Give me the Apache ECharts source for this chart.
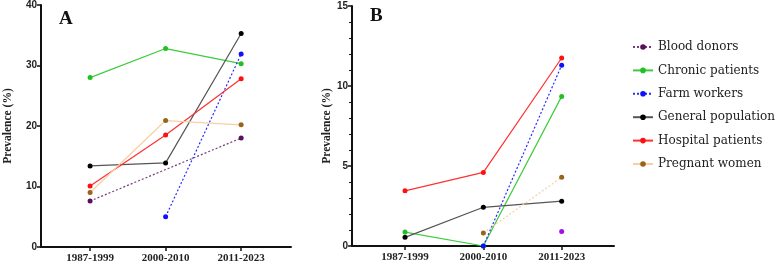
<!DOCTYPE html>
<html>
<head>
<meta charset="utf-8">
<script src="https://cdn.jsdelivr.net/npm/echarts@6/dist/echarts.min.js"></script>
<style>
* { margin: 0; padding: 0; }
body { background: #fff; }
</style>
</head>
<body>
<div id="main" style="width:777px;height:265px;"></div>
<script>
// periods on the x axis
var categories = ['1987-1999', '2000-2010', '2011-2023'];
var names = ['Blood donors', 'Chronic patients', 'Farm workers', 'General population', 'Hospital patients', 'Pregnant women'];

// panel A values (%)
var aBlood = [7.6, null, 18.0];
var aChronic = [28.0, 32.8, 30.3];
var aFarm = [null, 5.0, 31.9];
var aGeneral = [13.4, 13.9, 35.3];
var aHospital = [10.1, 18.5, 27.8];
var aPregnant = [9.0, 20.9, 20.2];

// panel B values (%)
var bBlood = [null, null, 0.9];
var bChronic = [0.87, 0.0, 9.35];
var bFarm = [null, 0.0, 11.3];
var bGeneral = [0.54, 2.42, 2.8];
var bHospital = [3.45, 4.6, 11.75];
var bPregnant = [null, 0.81, 4.3];

var chart = echarts.init(document.getElementById('main'));

function pts(arr) {
  return arr.map(function (v, i) { return [i, v]; }).filter(function (p) { return p[1] != null; });
}

var styles = [
  { line: '#7a3a7a', dot: '#5a0f5a', type: [2, 2] },
  { line: '#3dcc3d', dot: '#22c022', type: 'solid' },
  { line: '#2a2aff', dot: '#1010ff', type: [2, 2] },
  { line: '#555555', dot: '#000000', type: 'solid' },
  { line: '#ff3030', dot: '#ff1010', type: 'solid' },
  { line: '#f7cfa5', dot: '#9a6418', type: 'solid' }
];

function mk(idx, data, axis, overrides) {
  var s = styles[idx];
  var o = overrides || {};
  return {
    name: names[idx],
    type: 'line',
    xAxisIndex: axis,
    yAxisIndex: axis,
    data: pts(data),
    symbol: 'circle',
    symbolSize: 5,
    connectNulls: true,
    silent: true,
    itemStyle: { color: o.dot || s.dot },
    lineStyle: { color: s.line, width: 1.2, type: o.type || s.type }
  };
}

var labelFont = { fontFamily: 'Liberation Serif', fontWeight: 'bold', fontSize: 11, color: '#222' };

function xAx(grid, min, max) {
  return {
    type: 'value', gridIndex: grid, min: min, max: max,
    splitLine: { show: false },
    axisLine: { onZero: false, lineStyle: { color: '#111', width: 2 } },
    axisTick: { customValues: [0, 1, 2], length: 4, lineStyle: { color: '#111', width: 1.5 } },
    axisLabel: Object.assign({ customValues: [0, 1, 2], margin: 6, formatter: function (v) { return categories[Math.round(v)]; } }, labelFont)
  };
}

function yAx(grid, max, interval, gap, minor) {
  return {
    type: 'value', gridIndex: grid, min: 0, max: max, interval: interval,
    name: 'Prevalence (%)', nameLocation: 'middle', nameGap: gap,
    nameTextStyle: { fontFamily: 'Liberation Serif', fontWeight: 'bold', fontSize: 11.5, color: '#222' },
    splitLine: { show: false },
    axisLine: { show: true, onZero: false, lineStyle: { color: '#111', width: 2 } },
    axisTick: { show: true, length: 4, lineStyle: { color: '#111', width: 1.5 } },
    minorTick: { show: minor, splitNumber: 5, length: 3, lineStyle: { color: '#111', width: 1 } },
    axisLabel: { margin: 4, fontFamily: 'Liberation Sans', fontWeight: 'bold', fontSize: 10, color: '#222' }
  };
}

chart.setOption({
  animation: false,
  grid: [
    { left: 41, top: 4, width: 250, height: 243 },
    { left: 352, top: 6, width: 262, height: 240 }
  ],
  xAxis: [xAx(0, -0.65, 2.66), xAx(1, -0.677, 2.668)],
  yAxis: [yAx(0, 40, 10, 27, false), yAx(1, 15, 5, 19, true)],
  title: [
    { text: 'A', left: 54, top: 5, textStyle: { fontFamily: 'Liberation Serif', fontWeight: 'bold', fontSize: 19, color: '#111' } },
    { text: 'B', left: 365, top: 2, textStyle: { fontFamily: 'Liberation Serif', fontWeight: 'bold', fontSize: 19, color: '#111' } }
  ],
  legend: {
    orient: 'vertical', left: 627, top: 36,
    itemWidth: 20, itemHeight: 7, itemGap: 11.4,
    textStyle: { fontFamily: 'DejaVu Serif', fontSize: 12, color: '#222' },
    data: names
  },
  series: [
    mk(0, aBlood, 0), mk(1, aChronic, 0), mk(2, aFarm, 0),
    mk(3, aGeneral, 0), mk(4, aHospital, 0), mk(5, aPregnant, 0),
    mk(0, bBlood, 1, { dot: '#a010e8' }), mk(1, bChronic, 1), mk(2, bFarm, 1),
    mk(3, bGeneral, 1), mk(4, bHospital, 1), mk(5, bPregnant, 1, { type: [2, 2] })
  ]
});
</script>
</body>
</html>
